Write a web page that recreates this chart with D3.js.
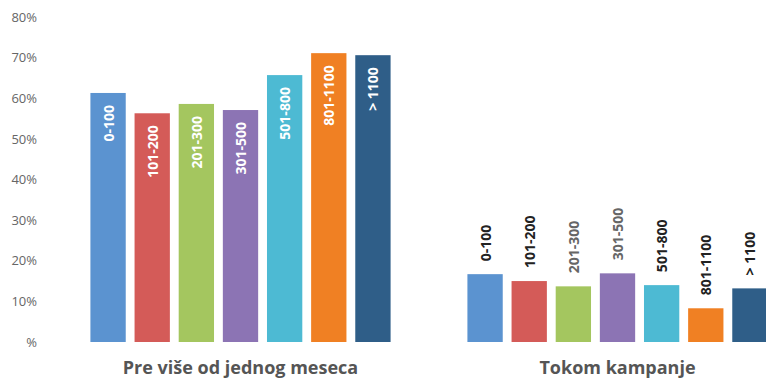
<!DOCTYPE html>
<html>
<head>
<meta charset="utf-8">
<script src="https://cdn.jsdelivr.net/npm/d3@7"></script>
<style>
  html, body { margin: 0; padding: 0; background: #ffffff; }
  svg { display: block; }
</style>
</head>
<body>
<svg id="chart" width="766" height="380"></svg>
<script>
// ---- data ----
const categories = ["0-100", "101-200", "201-300", "301-500", "501-800", "801-1100", "> 1100"];
const colors = ["#5B93D0", "#D45B58", "#A4C65F", "#8C74B4", "#4DBAD3", "#F08023", "#2F5E88"];
const groupTitles = ["Pre više od jednog meseca", "Tokom kampanje"];
const valuesPre = [61.3, 56.3, 58.6, 57.1, 65.7, 71.1, 70.6];
const valuesTokom = [16.7, 15.0, 13.7, 16.9, 14.0, 8.3, 13.2];
const yTicks = [0, 10, 20, 30, 40, 50, 60, 70, 80];
const yTickLabels = ["%", "10%", "20%", "30%", "40%", "50%", "60%", "70%", "80%"];

const svg = d3.select("#chart");
const font = "'Open Sans', sans-serif";

const y = d3.scaleLinear().domain([0, 80]).range([342, 17]);

// y axis (labels only)
const yAxis = d3.axisLeft(y).tickValues(yTicks)
  .tickFormat((d, i) => yTickLabels[i]).tickSize(0).tickPadding(0);
const yg = svg.append("g").attr("transform", "translate(37,0)").call(yAxis);
yg.select(".domain").remove();
yg.selectAll("text")
  .attr("fill", "#666666")
  .style("font-family", font)
  .style("font-size", "13px");

const groups = [
  { values: valuesPre, range: [86, 395], inside: true, title: groupTitles[0] },
  { values: valuesTokom, range: [463, 772], inside: false, title: groupTitles[1] }
];

const outsideColors = ["#222", "#222", "#666", "#666", "#222", "#222", "#222"];

groups.forEach(g => {
  const x = d3.scaleBand().domain(categories).range(g.range)
    .paddingInner(0.2).paddingOuter(0.1);
  const data = categories.map((c, i) => ({ c, v: g.values[i], color: colors[i], i }));
  const gg = svg.append("g");
  gg.selectAll("rect").data(data).join("rect")
    .attr("x", d => x(d.c))
    .attr("width", x.bandwidth())
    .attr("y", d => y(d.v))
    .attr("height", d => y(0) - y(d.v))
    .attr("fill", d => d.color);

  gg.selectAll("text.lbl").data(data).join("text")
    .attr("class", "lbl")
    .attr("transform", d => {
      const cx = x(d.c) + x.bandwidth() / 2;
      const ty = g.inside ? y(d.v) + 12 : y(d.v) - 13;
      return `translate(${cx + 5.5},${ty}) rotate(-90)`;
    })
    .attr("text-anchor", g.inside ? "end" : "start")
    .attr("fill", d => g.inside ? "#ffffff" : outsideColors[d.i])
    .style("font-family", font)
    .style("font-weight", "700")
    .style("font-size", "14px")
    .text(d => d.c);

  const first = x(categories[0]);
  const last = x(categories[categories.length - 1]) + x.bandwidth();
  gg.append("text")
    .attr("x", (first + last) / 2)
    .attr("y", 374)
    .attr("text-anchor", "middle")
    .attr("fill", "#555555")
    .style("font-family", font)
    .style("font-weight", "700")
    .style("font-size", "18px")
    .text(g.title);
});
</script>
</body>
</html>
